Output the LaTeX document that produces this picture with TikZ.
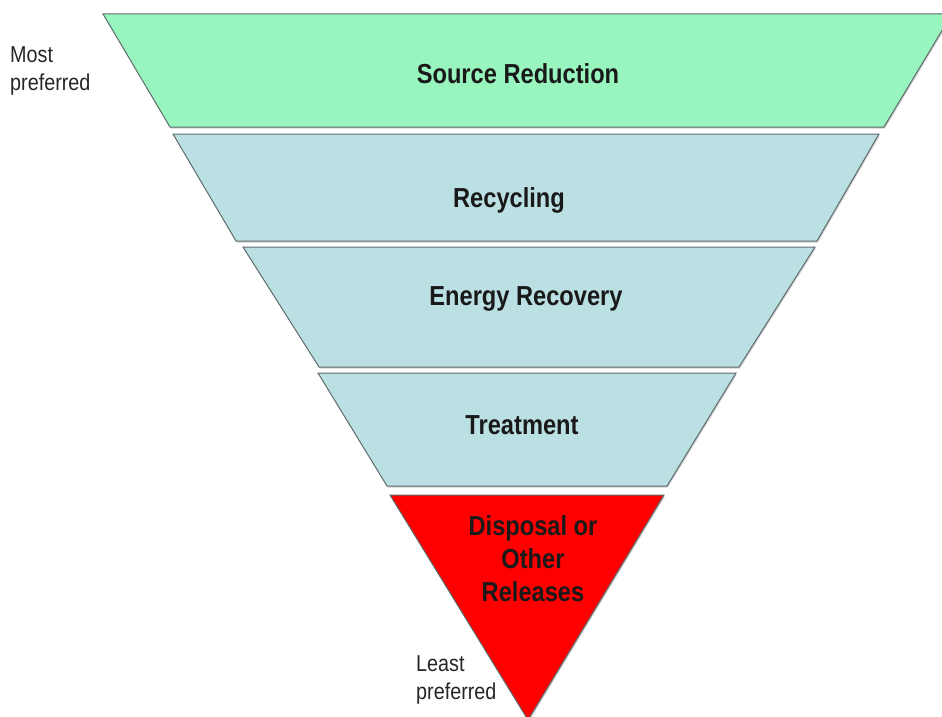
\documentclass[tikz,border=0pt]{standalone}
\usepackage{fontspec}
\setmainfont{Liberation Sans}
\newfontfamily\squeezed[FakeStretch=0.86]{Liberation Sans}
\usetikzlibrary{shadows}
\definecolor{mint}{HTML}{98F5BE}
\definecolor{paleteal}{HTML}{BBE0E3}
\definecolor{edgegray}{HTML}{5F6B6B}

\tikzset{
  band/.style={draw=edgegray, line width=1pt, line join=miter,
    drop shadow={shadow xshift=1pt, shadow yshift=-1.5pt, opacity=0.35, fill=gray}},
  lvl/.style={font=\squeezed\bfseries\fontsize{27.5}{33}\selectfont, text=black!90, align=center, inner sep=0pt},
  note/.style={font=\squeezed\fontsize{23}{28}\selectfont, text=black!85, align=left, inner sep=0pt}
}

\begin{document}
\begin{tikzpicture}[x=1pt,y=-1pt]
\useasboundingbox (0,0) rectangle (942,717);
\begin{scope}
\clip (0,0) rectangle (942,717);
% the five levels, top to bottom
\draw[band, fill=mint] (103,14) -- (952,14) -- (884,127) -- (170,127) -- cycle;
\draw[band, fill=paleteal] (173,134) -- (879,134) -- (817,241) -- (236,241) -- cycle;
\draw[band, fill=paleteal] (243,247) -- (815,247) -- (739,367) -- (319,367) -- cycle;
\draw[band, fill=paleteal] (318,373) -- (736,373) -- (667,486) -- (387,486) -- cycle;
\draw[band, fill=red] (390,495) -- (664,495) -- (528,720) -- cycle;
\end{scope}

\node[lvl] (src) at (518,74) {Source Reduction};
\node[lvl] (rec) at (509,200) {Recycling};
\node[lvl] (ene) at (526,299) {Energy Recovery};
\node[lvl] (tre) at (522,425) {Treatment};
\node[lvl] (dis) at (533,559) {Disposal or\\Other\\Releases};

\node[note, anchor=north west] (most) at (10,46) {Most\\preferred};
\node[note, anchor=north west] (least) at (416,655) {Least\\preferred};
\end{tikzpicture}
\end{document}
